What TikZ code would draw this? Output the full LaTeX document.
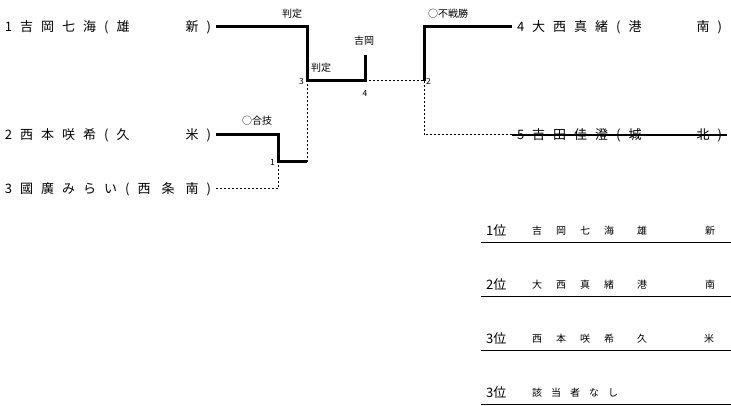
\documentclass[tikz,border=0pt]{standalone}
\usepackage{fontspec}
\newfontfamily\jp{Noto Sans CJK JP}
\usetikzlibrary{positioning}

\tikzset{
  player/.style={anchor=west, inner xsep=5pt, inner ysep=0pt, outer sep=0pt,
    font=\jp\fontsize{13pt}{15pt}\selectfont,
    execute at begin node={\spaceskip=8pt\relax}},
  winline/.style={line width=3pt},
  loseline/.style={line width=1pt, dash pattern=on 2pt off 2pt},
  result/.style={inner sep=0pt, font=\jp\fontsize{10pt}{12pt}\selectfont},
  matchno/.style={inner sep=0pt, font=\jp\fontsize{8.5pt}{10pt}\selectfont},
  rank/.style={anchor=west, inner sep=0pt, font=\jp\fontsize{13pt}{15pt}\selectfont},
  rankname/.style={anchor=west, inner sep=0pt,
    font=\jp\fontsize{10pt}{12pt}\selectfont,
    execute at begin node={\spaceskip=#1\relax}},
  rankname/.default=14pt,
  school/.style={inner sep=0pt, font=\jp\fontsize{10pt}{12pt}\selectfont},
  rankline/.style={line width=1pt}
}

\begin{document}
\begin{tikzpicture}[x=1pt, y=-1pt]

    \useasboundingbox (0,0) rectangle (731,406);

    % Players
    \node[player] (p1) at (0,27) {\makebox[206pt][s]{1 吉 岡 七 海 ( 雄\hfill 新 )}};
    \node[player] (p2) at (0,135) {\makebox[206pt][s]{2 西 本 咲 希 ( 久\hfill 米 )}};
    \node[player] (p3) at (0,189) {\makebox[206pt][s]{3 國 廣 み ら い ( 西\hfill 条\hfill 南 )}};
    \node[player] (p4) at (512,27) {\makebox[205pt][s]{4 大 西 真 緒 ( 港\hfill 南 )}};
    \node[player] (p5) at (512,135) {\makebox[205pt][s]{5 吉 田 佳 澄 ( 城\hfill 北 )}};

    % Match points
    \coordinate (m1) at (278,162);
    \coordinate (m3) at (307,81);
    \coordinate (m4) at (365,81);
    \coordinate (m2) at (424,81);
    \coordinate (w4) at (365,55);

    % Match numbers
    \node[matchno, left=3pt of m1] (n1) {1};
    \node[matchno, left=3pt of m3] (n3) {3};
    \node[matchno, below=9pt of m4] (n4) {4};
    \node[matchno, right=2pt of m2] (n2) {2};

    % Results
    \node[result] (r1) at (257,121) {○合技};
    \node[result] (r3a) at (292,14) {判定};
    \node[result] (r3b) at (321,68) {判定};
    \node[result] (r4) at (364,41) {吉岡};
    \node[result] (r2) at (448,14) {○不戦勝};

    % Bracket lines
    \draw[winline] (p2.east) -| (m1) -- (m1 -| m3);
    \draw[loseline] (p3.east) -| (m1);
    \draw[loseline] (m1 -| m3) -- (m3);
    \draw[winline] (p1.east) -| (m3) -- (m4) -- (w4);
    \draw[loseline] (m4) -- (m2);
    \draw[winline] (m2) |- (p4.west);
    \draw[loseline] (m2) |- (p5.west);
    \draw[line width=2.5pt] (p5.west) -- (p5.east);

    % Final ranking
    \node[rank] (k1) at (486,231) {1位};
    \node[rankname] (k1n) at (532,231) {吉 岡 七 海};
    \node[school] (k1a) at (642,231) {雄};
    \node[school] (k1b) at (710,231) {新};

    \node[rank] (k2) at (486,285) {2位};
    \node[rankname] (k2n) at (532,285) {大 西 真 緒};
    \node[school] (k2a) at (642,285) {港};
    \node[school] (k2b) at (710,285) {南};

    \node[rank] (k3) at (486,339) {3位};
    \node[rankname] (k3n) at (532,339) {西 本 咲 希};
    \node[school] (k3a) at (642,339) {久};
    \node[school] (k3b) at (709,339) {米};

    \node[rank] (k4) at (486,393) {3位};
    \node[rankname=9pt] (k4n) at (532,393) {該 当 者 な し};

    \foreach \y in {242.5,296.5,350.5,404.5}
        \draw[rankline] (481,\y) -- (731,\y);

\end{tikzpicture}
\end{document}
